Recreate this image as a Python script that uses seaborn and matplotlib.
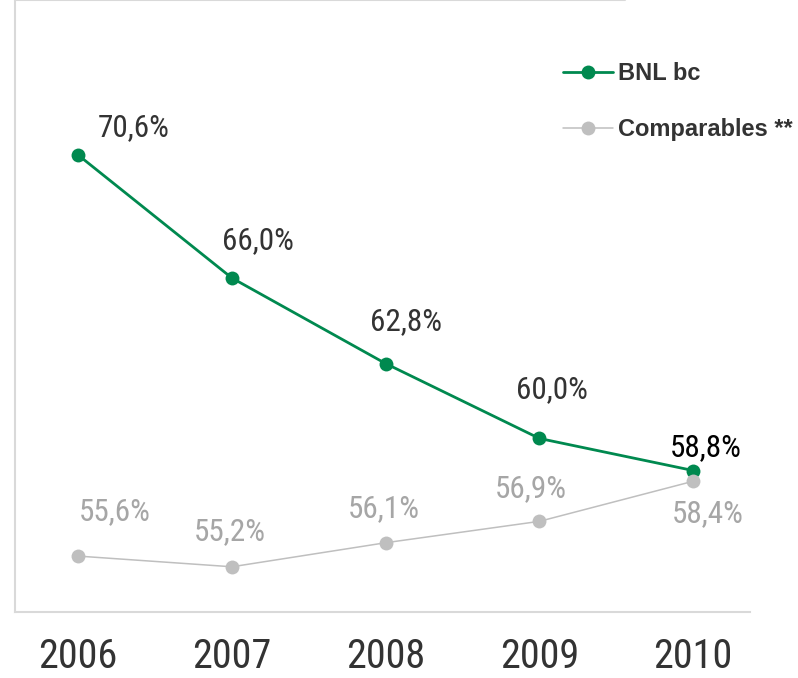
import pandas as pd
import numpy as np
import matplotlib
matplotlib.use("Agg")
import matplotlib.pyplot as plt
from matplotlib import font_manager as fm
import seaborn as sns

# Data
years = ["2006", "2007", "2008", "2009", "2010"]
bnl = [70.6, 66.0, 62.8, 60.0, 58.8]
comparables = [55.6, 55.2, 56.1, 56.9, 58.4]
series_names = ["BNL bc", "Comparables **"]

sns.set_theme(style="white")
plt.rcParams['font.family'] = ['DejaVu Sans']

# look for a condensed face for the numbers
cond = None
for f in fm.fontManager.ttflist:
    n = (f.name + " " + f.fname).lower()
    if ("condensed" in n or "narrow" in n or f.stretch in ("condensed", "semi-condensed")) \
            and f.weight in (400, "normal", "regular") and f.style == "normal":
        if cond is None or "roboto" in n:
            cond = f.fname
num_font = fm.FontProperties(fname=cond) if cond else fm.FontProperties(family="Roboto")

fig = plt.figure(figsize=(7.98, 6.78), dpi=100)
ax = fig.add_axes([0.019, 0.097, 0.921, 0.903])

green = "#00894F"
grey = "#BFBFBF"
pos = np.arange(len(years))

sns.lineplot(x=pos, y=bnl, ax=ax, color=green, linewidth=2.0, marker="o",
             markersize=10, markeredgewidth=0, label=series_names[0])
sns.lineplot(x=pos, y=comparables, ax=ax, color=grey, linewidth=1.1, marker="o",
             markersize=10, markeredgewidth=0, label=series_names[1])

ax.set_xlim(-0.41, 4.37)
ax.set_ylim(53.5, 76.4)
ax.set_xticks(pos)
ax.set_xticklabels(years, fontproperties=num_font, fontsize=29, color="#333333")
ax.tick_params(axis="x", length=0, pad=18)
ax.set_yticks([])

for s in ["top", "right"]:
    ax.spines[s].set_visible(False)
for s in ["left", "bottom"]:
    ax.spines[s].set_color("#D9D9D9")
    ax.spines[s].set_linewidth(1.5)
ax.axhline(76.4, xmin=0, xmax=0.83, color="#D9D9D9", linewidth=1.5, clip_on=False)

# value labels (offsets in pixels)
green_off = [(55, 27), (26, 37), (20, 42), (12, 49), (13, 23)]
green_col = ["#333333", "#333333", "#333333", "#333333", "#000000"]
grey_off = [(37, 44), (-2, 35), (-2, 34), (-9, 33), (15, -32)]
for i, v in enumerate(bnl):
    ax.annotate(f"{v:.1f}%".replace(".", ","), (i, v), xytext=green_off[i],
                textcoords="offset pixels", ha="center", va="center",
                fontproperties=num_font, fontsize=22.5, color=green_col[i])
for i, v in enumerate(comparables):
    ax.annotate(f"{v:.1f}%".replace(".", ","), (i, v), xytext=grey_off[i],
                textcoords="offset pixels", ha="center", va="center",
                fontproperties=num_font, fontsize=22.5, color="#A6A6A6")

leg = ax.legend(loc="upper left", bbox_to_anchor=(542 / 798, 1 - 41 / 678),
                bbox_transform=fig.transFigure, frameon=False,
                handlelength=2.1, handletextpad=0.2, labelspacing=1.4,
                prop={"family": "Liberation Sans", "weight": "bold", "size": 17})
for t in leg.get_texts():
    t.set_color("#333333")

fig.savefig("out.png", dpi=100)
